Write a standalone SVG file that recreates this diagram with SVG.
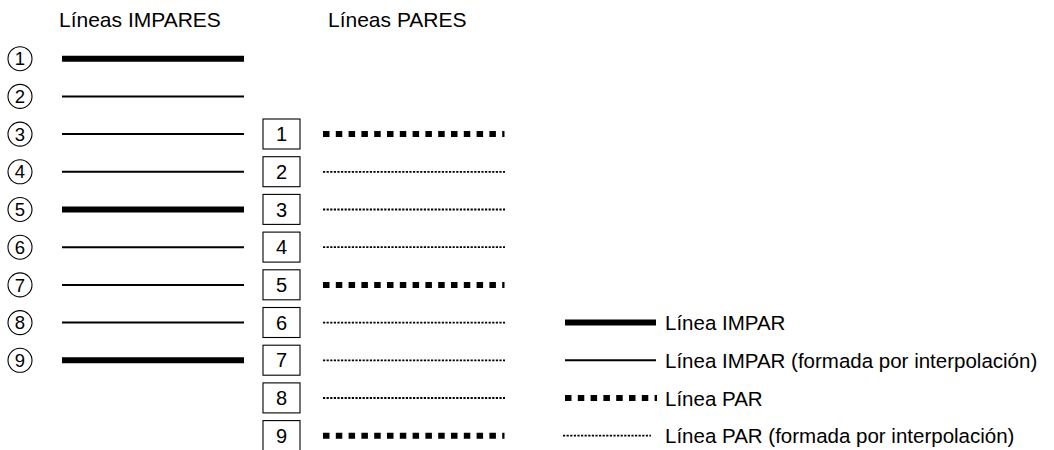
<svg xmlns="http://www.w3.org/2000/svg" width="1054" height="450" viewBox="0 0 1054 450">
<style>
text{font-family:"Liberation Sans",Arial,sans-serif;font-size:20.5px;fill:#000}
.h{font-size:21px}
.c{text-anchor:middle;font-size:20px}
.cc{text-anchor:middle;font-size:18.5px}
.node{fill:#fff;stroke:#000;stroke-width:1.1}
.thick{stroke:#000;stroke-width:6;fill:none}
.thin{stroke:#000;stroke-width:2;fill:none}
.dash{stroke:#000;stroke-width:6;stroke-dasharray:6.5 6.3;fill:none}
.dot{stroke:#000;stroke-width:1.8;stroke-dasharray:2.2 1.4;fill:none}
</style>
<rect width="1054" height="450" fill="#fff"/>
<text class="h" x="59" y="27">Líneas IMPARES</text>
<text class="h" x="328" y="27">Líneas PARES</text>
<g id="odd-nodes">
<g id="o1"><circle class="node" cx="20" cy="58.7" r="12"/><text class="cc" x="20" y="65.3">1</text></g>
<g id="o2"><circle class="node" cx="20" cy="96.4" r="12"/><text class="cc" x="20" y="103">2</text></g>
<g id="o3"><circle class="node" cx="20" cy="134.1" r="12"/><text class="cc" x="20" y="140.7">3</text></g>
<g id="o4"><circle class="node" cx="20" cy="171.8" r="12"/><text class="cc" x="20" y="178.4">4</text></g>
<g id="o5"><circle class="node" cx="20" cy="209.5" r="12"/><text class="cc" x="20" y="216.1">5</text></g>
<g id="o6"><circle class="node" cx="20" cy="247.2" r="12"/><text class="cc" x="20" y="253.8">6</text></g>
<g id="o7"><circle class="node" cx="20" cy="284.9" r="12"/><text class="cc" x="20" y="291.5">7</text></g>
<g id="o8"><circle class="node" cx="20" cy="322.6" r="12"/><text class="cc" x="20" y="329.2">8</text></g>
<g id="o9"><circle class="node" cx="20" cy="360.3" r="12"/><text class="cc" x="20" y="366.9">9</text></g>
</g>
<g id="even-nodes">
<g id="e1"><rect class="node" x="263" y="119" width="37" height="30"/><text class="c" x="281.5" y="141.1">1</text></g>
<g id="e2"><rect class="node" x="263" y="156.7" width="37" height="30"/><text class="c" x="281.5" y="178.8">2</text></g>
<g id="e3"><rect class="node" x="263" y="194.4" width="37" height="30"/><text class="c" x="281.5" y="216.5">3</text></g>
<g id="e4"><rect class="node" x="263" y="232.1" width="37" height="30"/><text class="c" x="281.5" y="254.2">4</text></g>
<g id="e5"><rect class="node" x="263" y="269.8" width="37" height="30"/><text class="c" x="281.5" y="291.9">5</text></g>
<g id="e6"><rect class="node" x="263" y="307.5" width="37" height="30"/><text class="c" x="281.5" y="329.6">6</text></g>
<g id="e7"><rect class="node" x="263" y="345.2" width="37" height="30"/><text class="c" x="281.5" y="367.3">7</text></g>
<g id="e8"><rect class="node" x="263" y="382.9" width="37" height="30"/><text class="c" x="281.5" y="405">8</text></g>
<g id="e9"><rect class="node" x="263" y="420.6" width="37" height="30"/><text class="c" x="281.5" y="442.7">9</text></g>
</g>
<g id="connectors">
<line class="thick" x1="62" y1="58.7" x2="244" y2="58.7"/>
<line class="thin" x1="62" y1="96.4" x2="244" y2="96.4"/>
<line class="thin" x1="62" y1="134.1" x2="244" y2="134.1"/>
<line class="thin" x1="62" y1="171.8" x2="244" y2="171.8"/>
<line class="thick" x1="62" y1="209.5" x2="244" y2="209.5"/>
<line class="thin" x1="62" y1="247.2" x2="244" y2="247.2"/>
<line class="thin" x1="62" y1="284.9" x2="244" y2="284.9"/>
<line class="thin" x1="62" y1="322.6" x2="244" y2="322.6"/>
<line class="thick" x1="62" y1="360.3" x2="244" y2="360.3"/>
<line class="dash" x1="323" y1="134.1" x2="504.5" y2="134.1"/>
<line class="dot" x1="323" y1="171.8" x2="505" y2="171.8"/>
<line class="dot" x1="323" y1="209.5" x2="505" y2="209.5"/>
<line class="dot" x1="323" y1="247.2" x2="505" y2="247.2"/>
<line class="dash" x1="323" y1="284.9" x2="504.5" y2="284.9"/>
<line class="dot" x1="323" y1="322.6" x2="505" y2="322.6"/>
<line class="dot" x1="323" y1="360.3" x2="505" y2="360.3"/>
<line class="dot" x1="323" y1="398" x2="505" y2="398"/>
<line class="dash" x1="323" y1="435.7" x2="504.5" y2="435.7"/>
</g>
<g id="legend">
<line class="thick" x1="565" y1="322.6" x2="656" y2="322.6"/>
<text x="665" y="330">Línea IMPAR</text>
<line class="thin" x1="565" y1="360.3" x2="656" y2="360.3"/>
<text x="665" y="367.5">Línea IMPAR (formada por interpolación)</text>
<line class="dash" x1="565" y1="398" x2="657" y2="398"/>
<text x="665" y="406">Línea PAR</text>
<line class="dot" x1="563" y1="435.7" x2="651" y2="435.7"/>
<text x="665" y="443">Línea PAR (formada por interpolación)</text>
</g>
</svg>
